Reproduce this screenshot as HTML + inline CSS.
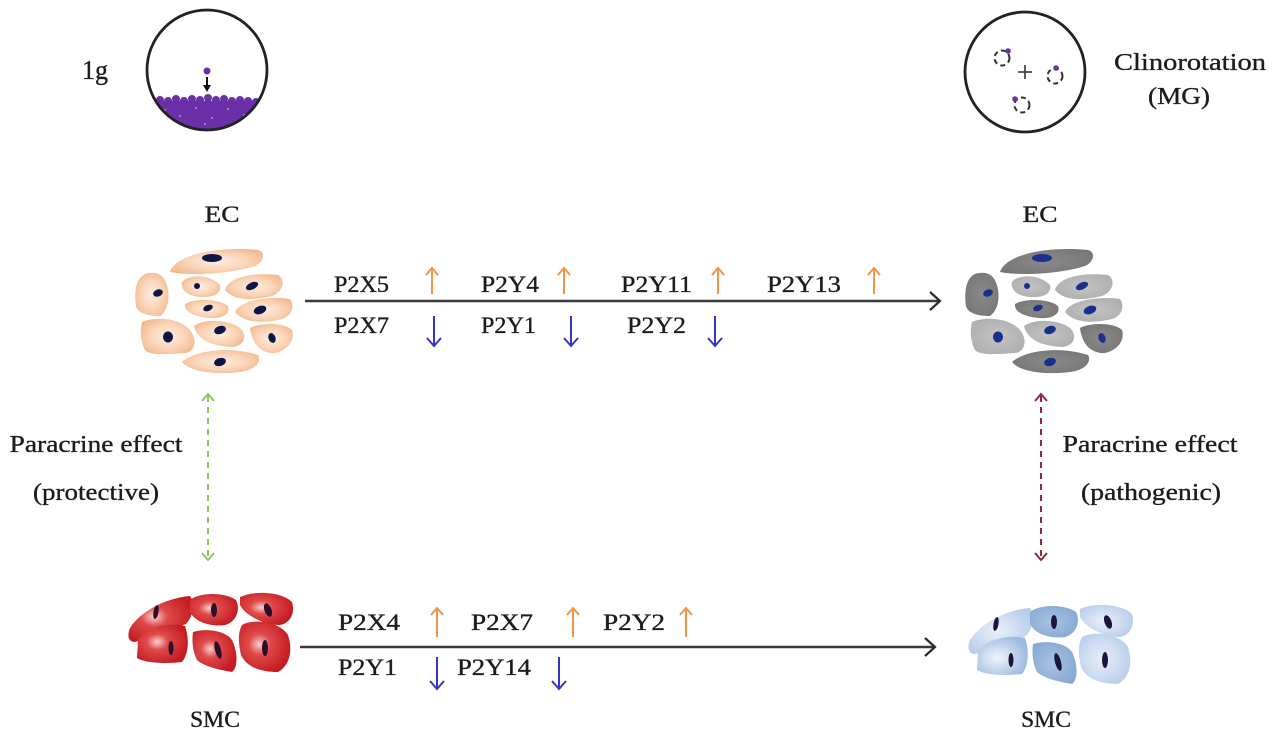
<!DOCTYPE html>
<html><head><meta charset="utf-8"><style>
html,body{margin:0;padding:0;background:#fff;}
svg{display:block;}
text{font-family:"Liberation Serif",serif;fill:#1c1c1c;stroke:#1c1c1c;stroke-width:0.35;}
</style></head><body>
<svg width="1280" height="740" viewBox="0 0 1280 740" xmlns="http://www.w3.org/2000/svg">
<defs>
<radialGradient id="peach" cx="50%" cy="50%" r="60%"><stop offset="0" stop-color="#fdeee2"/><stop offset="0.6" stop-color="#f9d2b4"/><stop offset="1" stop-color="#f3b68a"/></radialGradient>
<radialGradient id="gDark" cx="50%" cy="50%" r="60%"><stop offset="0" stop-color="#8a8a8a"/><stop offset="1" stop-color="#767676"/></radialGradient>
<radialGradient id="gLight" cx="50%" cy="50%" r="60%"><stop offset="0" stop-color="#c4c4c4"/><stop offset="1" stop-color="#aeaeae"/></radialGradient>
<radialGradient id="red" cx="40%" cy="45%" r="60%"><stop offset="0" stop-color="#f7d0d0"/><stop offset="0.35" stop-color="#e04a4a"/><stop offset="1" stop-color="#c41c22"/></radialGradient>
<radialGradient id="bl1" cx="45%" cy="50%" r="60%"><stop offset="0" stop-color="#e8f0fa"/><stop offset="1" stop-color="#b8cdea"/></radialGradient>
<radialGradient id="bl2" cx="45%" cy="50%" r="60%"><stop offset="0" stop-color="#a9c3e2"/><stop offset="1" stop-color="#86a8d2"/></radialGradient>
<radialGradient id="bl3" cx="40%" cy="55%" r="60%"><stop offset="0" stop-color="#f0f5fc"/><stop offset="1" stop-color="#9fbbe0"/></radialGradient>
<clipPath id="cc"><circle cx="207" cy="70" r="60"/></clipPath>
</defs>

<!-- Top-left circle 1g -->
<text x="82" y="79" font-size="27" textLength="26" lengthAdjust="spacingAndGlyphs">1g</text>
<g clip-path="url(#cc)">
  <rect x="140" y="101" width="140" height="40" fill="#6b2fa8"/>
  <g fill="#6b2fa8">
    <circle cx="152" cy="102" r="4"/><circle cx="160" cy="100" r="4"/><circle cx="168" cy="101" r="4"/><circle cx="176" cy="99" r="4"/><circle cx="184" cy="101" r="4"/><circle cx="192" cy="99" r="4"/><circle cx="200" cy="100" r="4"/><circle cx="208" cy="98" r="4"/><circle cx="216" cy="100" r="4"/><circle cx="224" cy="99" r="4"/><circle cx="232" cy="101" r="4"/><circle cx="240" cy="100" r="4"/><circle cx="248" cy="101" r="4"/><circle cx="256" cy="102" r="4"/><circle cx="264" cy="103" r="4"/>
  </g>
  <g fill="#b98ee0">
    <circle cx="165" cy="110" r="1"/><circle cx="180" cy="116" r="1"/><circle cx="196" cy="108" r="1"/><circle cx="212" cy="118" r="1"/><circle cx="228" cy="109" r="1"/><circle cx="244" cy="115" r="1"/><circle cx="205" cy="124" r="1"/><circle cx="172" cy="122" r="1"/><circle cx="236" cy="124" r="1"/><circle cx="255" cy="108" r="1"/>
  </g>
</g>
<circle cx="207" cy="70" r="60" fill="none" stroke="#222" stroke-width="2.8"/>
<circle cx="207" cy="71" r="3.5" fill="#6b2fa8"/>
<line x1="207" y1="77" x2="207" y2="86" stroke="#111" stroke-width="2"/>
<polygon points="203,85 211,85 207,92" fill="#111"/>

<!-- Top-right circle -->
<circle cx="1025" cy="72" r="60" fill="none" stroke="#222" stroke-width="2.8"/>
<line x1="1018" y1="72" x2="1032" y2="72" stroke="#333" stroke-width="1.6"/>
<line x1="1025" y1="65" x2="1025" y2="79" stroke="#333" stroke-width="1.6"/>
<g fill="none" stroke="#333" stroke-width="2" stroke-dasharray="5 3.5">
  <circle cx="1002" cy="58" r="7.5"/><circle cx="1055" cy="76" r="7.5"/><circle cx="1022" cy="105" r="7.5"/>
</g>
<g fill="#6b2fa8"><circle cx="1008" cy="51" r="2.8"/><circle cx="1056" cy="68" r="2.8"/><circle cx="1015" cy="99" r="2.8"/></g>
<text x="1190" y="70" font-size="24" text-anchor="middle" textLength="152" lengthAdjust="spacingAndGlyphs">Clinorotation</text>
<text x="1179" y="104" font-size="24" text-anchor="middle" textLength="62" lengthAdjust="spacingAndGlyphs">(MG)</text>

<!-- EC labels -->
<text x="222" y="222" font-size="23" text-anchor="middle" textLength="35" lengthAdjust="spacingAndGlyphs">EC</text>
<text x="1040" y="222" font-size="23" text-anchor="middle" textLength="35" lengthAdjust="spacingAndGlyphs">EC</text>

<!-- Left EC cells -->
<g stroke="none">
  <path d="M170,272 C175,255 215,246 258,250 C266,252 264,262 255,266 C230,274 190,276 170,272 Z" fill="url(#peach)"/>
  <path d="M145,274 C158,270 166,276 168,290 C170,302 166,312 160,316 C150,316 138,314 136,306 C134,292 136,278 145,274 Z" fill="url(#peach)"/>
  <path d="M182,282 C188,274 210,274 220,285 C222,293 214,298 200,297 C188,296 180,290 182,282 Z" fill="url(#peach)"/>
  <path d="M225,290 C228,278 250,272 278,275 C286,280 283,292 272,296 C255,300 235,302 225,290 Z" fill="url(#peach)"/>
  <path d="M185,304 C195,298 220,299 228,306 C231,314 222,319 210,318 C195,317 184,312 185,304 Z" fill="url(#peach)"/>
  <path d="M235,312 C240,300 270,296 290,299 C295,306 292,316 282,319 C265,323 245,324 235,312 Z" fill="url(#peach)"/>
  <path d="M142,322 C155,316 180,318 190,330 C198,340 195,352 185,353 C170,354 150,356 145,350 C140,340 140,330 142,322 Z" fill="url(#peach)"/>
  <path d="M194,326 C205,318 230,320 240,328 C248,336 244,346 232,347 C215,346 198,342 194,326 Z" fill="url(#peach)"/>
  <path d="M250,328 C262,322 285,323 292,330 C295,340 288,350 275,353 C262,354 252,345 250,328 Z" fill="url(#peach)"/>
  <path d="M182,362 C195,350 230,346 258,355 C262,362 255,370 240,372 C215,375 190,372 182,362 Z" fill="url(#peach)"/>
  <g fill="#0c1545">
    <ellipse cx="212" cy="258" rx="10" ry="4"/>
    <ellipse cx="158" cy="293" rx="5" ry="3.5" transform="rotate(-20 158 293)"/>
    <circle cx="197" cy="286" r="3"/>
    <ellipse cx="252" cy="286" rx="6.5" ry="3.5" transform="rotate(-25 252 286)"/>
    <ellipse cx="208" cy="308" rx="5" ry="3" transform="rotate(-20 208 308)"/>
    <ellipse cx="260" cy="310" rx="6.5" ry="4" transform="rotate(-20 260 310)"/>
    <ellipse cx="168" cy="337" rx="5" ry="5.5"/>
    <ellipse cx="220" cy="330" rx="6" ry="4" transform="rotate(-20 220 330)"/>
    <ellipse cx="272" cy="338" rx="3.5" ry="5" transform="rotate(-20 272 338)"/>
    <ellipse cx="220" cy="362" rx="6" ry="4" transform="rotate(-15 220 362)"/>
  </g>
</g>

<!-- Right EC cells (gray) -->
<g transform="translate(830,0)">
  <path d="M170,272 C175,255 215,246 258,250 C266,252 264,262 255,266 C230,274 190,276 170,272 Z" fill="url(#gDark)"/>
  <path d="M145,274 C158,270 166,276 168,290 C170,302 166,312 160,316 C150,316 138,314 136,306 C134,292 136,278 145,274 Z" fill="url(#gDark)"/>
  <path d="M182,282 C188,274 210,274 220,285 C222,293 214,298 200,297 C188,296 180,290 182,282 Z" fill="url(#gLight)"/>
  <path d="M225,290 C228,278 250,272 278,275 C286,280 283,292 272,296 C255,300 235,302 225,290 Z" fill="url(#gLight)"/>
  <path d="M185,304 C195,298 220,299 228,306 C231,314 222,319 210,318 C195,317 184,312 185,304 Z" fill="url(#gDark)"/>
  <path d="M235,312 C240,300 270,296 290,299 C295,306 292,316 282,319 C265,323 245,324 235,312 Z" fill="url(#gLight)"/>
  <path d="M142,322 C155,316 180,318 190,330 C198,340 195,352 185,353 C170,354 150,356 145,350 C140,340 140,330 142,322 Z" fill="url(#gLight)"/>
  <path d="M194,326 C205,318 230,320 240,328 C248,336 244,346 232,347 C215,346 198,342 194,326 Z" fill="url(#gLight)"/>
  <path d="M250,328 C262,322 285,323 292,330 C295,340 288,350 275,353 C262,354 252,345 250,328 Z" fill="url(#gDark)"/>
  <path d="M182,362 C195,350 230,346 258,355 C262,362 255,370 240,372 C215,375 190,372 182,362 Z" fill="url(#gDark)"/>
  <g fill="#1b2f8c">
    <ellipse cx="212" cy="258" rx="10" ry="4"/>
    <ellipse cx="158" cy="293" rx="5" ry="3.5" transform="rotate(-20 158 293)"/>
    <circle cx="197" cy="286" r="3"/>
    <ellipse cx="252" cy="286" rx="6.5" ry="3.5" transform="rotate(-25 252 286)"/>
    <ellipse cx="208" cy="308" rx="5" ry="3" transform="rotate(-20 208 308)"/>
    <ellipse cx="260" cy="310" rx="6.5" ry="4" transform="rotate(-20 260 310)"/>
    <ellipse cx="168" cy="337" rx="5" ry="5.5"/>
    <ellipse cx="220" cy="330" rx="6" ry="4" transform="rotate(-20 220 330)"/>
    <ellipse cx="272" cy="338" rx="3.5" ry="5" transform="rotate(-20 272 338)"/>
    <ellipse cx="220" cy="362" rx="6" ry="4" transform="rotate(-15 220 362)"/>
  </g>
</g>

<!-- Top arrow -->
<line x1="305" y1="301" x2="940" y2="301" stroke="#3a3a3a" stroke-width="2.4"/>
<polyline points="930,292 940,301 930,310" fill="none" stroke="#2a2a2a" stroke-width="2.2"/>
<g font-size="23">
  <text x="334" y="292" textLength="55" lengthAdjust="spacingAndGlyphs">P2X5</text>
  <text x="481" y="292" textLength="58" lengthAdjust="spacingAndGlyphs">P2Y4</text>
  <text x="621" y="292" textLength="71" lengthAdjust="spacingAndGlyphs">P2Y11</text>
  <text x="767" y="292" textLength="74" lengthAdjust="spacingAndGlyphs">P2Y13</text>
  <text x="334" y="333" textLength="55" lengthAdjust="spacingAndGlyphs">P2X7</text>
  <text x="481" y="333" textLength="55" lengthAdjust="spacingAndGlyphs">P2Y1</text>
  <text x="627" y="333" textLength="59" lengthAdjust="spacingAndGlyphs">P2Y2</text>
</g>
<g stroke="#ef9448" stroke-width="2" fill="none">
  <line x1="432" y1="268" x2="432" y2="294"/><polyline points="426,275 432,268 438,275"/>
  <line x1="564" y1="268" x2="564" y2="294"/><polyline points="558,275 564,268 570,275"/>
  <line x1="718" y1="268" x2="718" y2="294"/><polyline points="712,275 718,268 724,275"/>
  <line x1="874" y1="268" x2="874" y2="294"/><polyline points="868,275 874,268 880,275"/>
</g>
<g stroke="#3434c8" stroke-width="2" fill="none">
  <line x1="434" y1="316" x2="434" y2="346"/><polyline points="427,338 434,346 441,338"/>
  <line x1="571" y1="316" x2="571" y2="346"/><polyline points="564,338 571,346 578,338"/>
  <line x1="715" y1="316" x2="715" y2="346"/><polyline points="708,338 715,346 722,338"/>
</g>

<!-- Paracrine left -->
<text x="96" y="452" font-size="24" text-anchor="middle" textLength="173" lengthAdjust="spacingAndGlyphs">Paracrine effect</text>
<text x="96" y="500" font-size="24" text-anchor="middle" textLength="126" lengthAdjust="spacingAndGlyphs">(protective)</text>
<g stroke="#8fc65a" stroke-width="2" fill="none">
  <line x1="208" y1="396" x2="208" y2="558" stroke-dasharray="6 5"/>
  <polyline points="202,401 208,394 214,401"/>
  <polyline points="202,553 208,560 214,553"/>
</g>

<!-- Paracrine right -->
<text x="1150" y="452" font-size="24" text-anchor="middle" textLength="175" lengthAdjust="spacingAndGlyphs">Paracrine effect</text>
<text x="1151" y="500" font-size="24" text-anchor="middle" textLength="140" lengthAdjust="spacingAndGlyphs">(pathogenic)</text>
<g stroke="#8e2a3c" stroke-width="2" fill="none">
  <line x1="1041" y1="396" x2="1041" y2="558" stroke-dasharray="6 5"/>
  <polyline points="1035,401 1041,394 1047,401"/>
  <polyline points="1035,553 1041,560 1047,553"/>
</g>

<!-- Red SMC -->
<g>
  <path d="M130,628 C140,612 165,598 190,596 C196,605 192,618 186,624 C170,630 150,638 135,642 C128,642 127,635 130,628 Z" fill="url(#red)"/>
  <path d="M190,600 C200,592 225,592 236,600 C241,610 236,622 225,625 C210,627 195,622 190,612 Z" fill="url(#red)"/>
  <path d="M240,597 C255,590 282,592 292,602 C296,615 288,625 278,625 C262,624 245,615 240,605 Z" fill="url(#red)"/>
  <path d="M138,640 C145,628 168,622 185,626 C190,640 188,655 182,662 C165,664 145,663 137,658 Z" fill="url(#red)"/>
  <path d="M193,632 C205,628 225,630 232,640 C238,652 238,668 232,672 C220,670 205,667 197,660 C192,650 192,640 193,632 Z" fill="url(#red)"/>
  <path d="M242,625 C255,618 280,622 288,635 C293,650 290,665 278,672 C262,672 247,668 241,655 C238,642 238,632 242,625 Z" fill="url(#red)"/>
  <g fill="#2a0e2a">
    <ellipse cx="156" cy="612" rx="2.5" ry="7" transform="rotate(10 156 612)"/>
    <ellipse cx="214" cy="610" rx="3" ry="7"/>
    <ellipse cx="268" cy="610" rx="3.5" ry="7" transform="rotate(-20 268 610)"/>
    <ellipse cx="171" cy="648" rx="2.5" ry="7"/>
    <ellipse cx="218" cy="650" rx="3" ry="9" transform="rotate(-15 218 650)"/>
    <ellipse cx="265" cy="648" rx="3" ry="8"/>
  </g>
</g>

<!-- Blue SMC -->
<g transform="translate(840,12)">
  <path d="M130,628 C140,612 165,598 190,596 C196,605 192,618 186,624 C170,630 150,638 135,642 C128,642 127,635 130,628 Z" fill="url(#bl1)"/>
  <path d="M190,600 C200,592 225,592 236,600 C241,610 236,622 225,625 C210,627 195,622 190,612 Z" fill="url(#bl2)"/>
  <path d="M240,597 C255,590 282,592 292,602 C296,615 288,625 278,625 C262,624 245,615 240,605 Z" fill="url(#bl1)"/>
  <path d="M138,640 C145,628 168,622 185,626 C190,640 188,655 182,662 C165,664 145,663 137,658 Z" fill="url(#bl3)"/>
  <path d="M193,632 C205,628 225,630 232,640 C238,652 238,668 232,672 C220,670 205,667 197,660 C192,650 192,640 193,632 Z" fill="url(#bl2)"/>
  <path d="M242,625 C255,618 280,622 288,635 C293,650 290,665 278,672 C262,672 247,668 241,655 C238,642 238,632 242,625 Z" fill="url(#bl1)"/>
  <g fill="#1c1440">
    <ellipse cx="156" cy="612" rx="2.5" ry="7" transform="rotate(10 156 612)"/>
    <ellipse cx="214" cy="610" rx="3" ry="7"/>
    <ellipse cx="268" cy="610" rx="3.5" ry="7" transform="rotate(-20 268 610)"/>
    <ellipse cx="171" cy="648" rx="2.5" ry="7"/>
    <ellipse cx="218" cy="650" rx="3" ry="9" transform="rotate(-15 218 650)"/>
    <ellipse cx="265" cy="648" rx="3" ry="8"/>
  </g>
</g>

<!-- Bottom arrow -->
<line x1="300" y1="647" x2="935" y2="647" stroke="#3a3a3a" stroke-width="2.4"/>
<polyline points="925,638 935,647 925,656" fill="none" stroke="#2a2a2a" stroke-width="2.2"/>
<g font-size="23">
  <text x="338" y="630" textLength="62" lengthAdjust="spacingAndGlyphs">P2X4</text>
  <text x="471" y="630" textLength="62" lengthAdjust="spacingAndGlyphs">P2X7</text>
  <text x="603" y="630" textLength="62" lengthAdjust="spacingAndGlyphs">P2Y2</text>
  <text x="338" y="675" textLength="59" lengthAdjust="spacingAndGlyphs">P2Y1</text>
  <text x="457" y="675" textLength="74" lengthAdjust="spacingAndGlyphs">P2Y14</text>
</g>
<g stroke="#ef9448" stroke-width="2" fill="none">
  <line x1="437" y1="608" x2="437" y2="637"/><polyline points="431,615 437,608 443,615"/>
  <line x1="573" y1="608" x2="573" y2="637"/><polyline points="567,615 573,608 579,615"/>
  <line x1="686" y1="608" x2="686" y2="637"/><polyline points="680,615 686,608 692,615"/>
</g>
<g stroke="#3434c8" stroke-width="2" fill="none">
  <line x1="437" y1="657" x2="437" y2="689"/><polyline points="430,681 437,689 444,681"/>
  <line x1="559" y1="657" x2="559" y2="689"/><polyline points="552,681 559,689 566,681"/>
</g>

<!-- SMC labels -->
<text x="215" y="727" font-size="23" text-anchor="middle" textLength="50" lengthAdjust="spacingAndGlyphs">SMC</text>
<text x="1046" y="727" font-size="23" text-anchor="middle" textLength="50" lengthAdjust="spacingAndGlyphs">SMC</text>
</svg>
</body></html>
